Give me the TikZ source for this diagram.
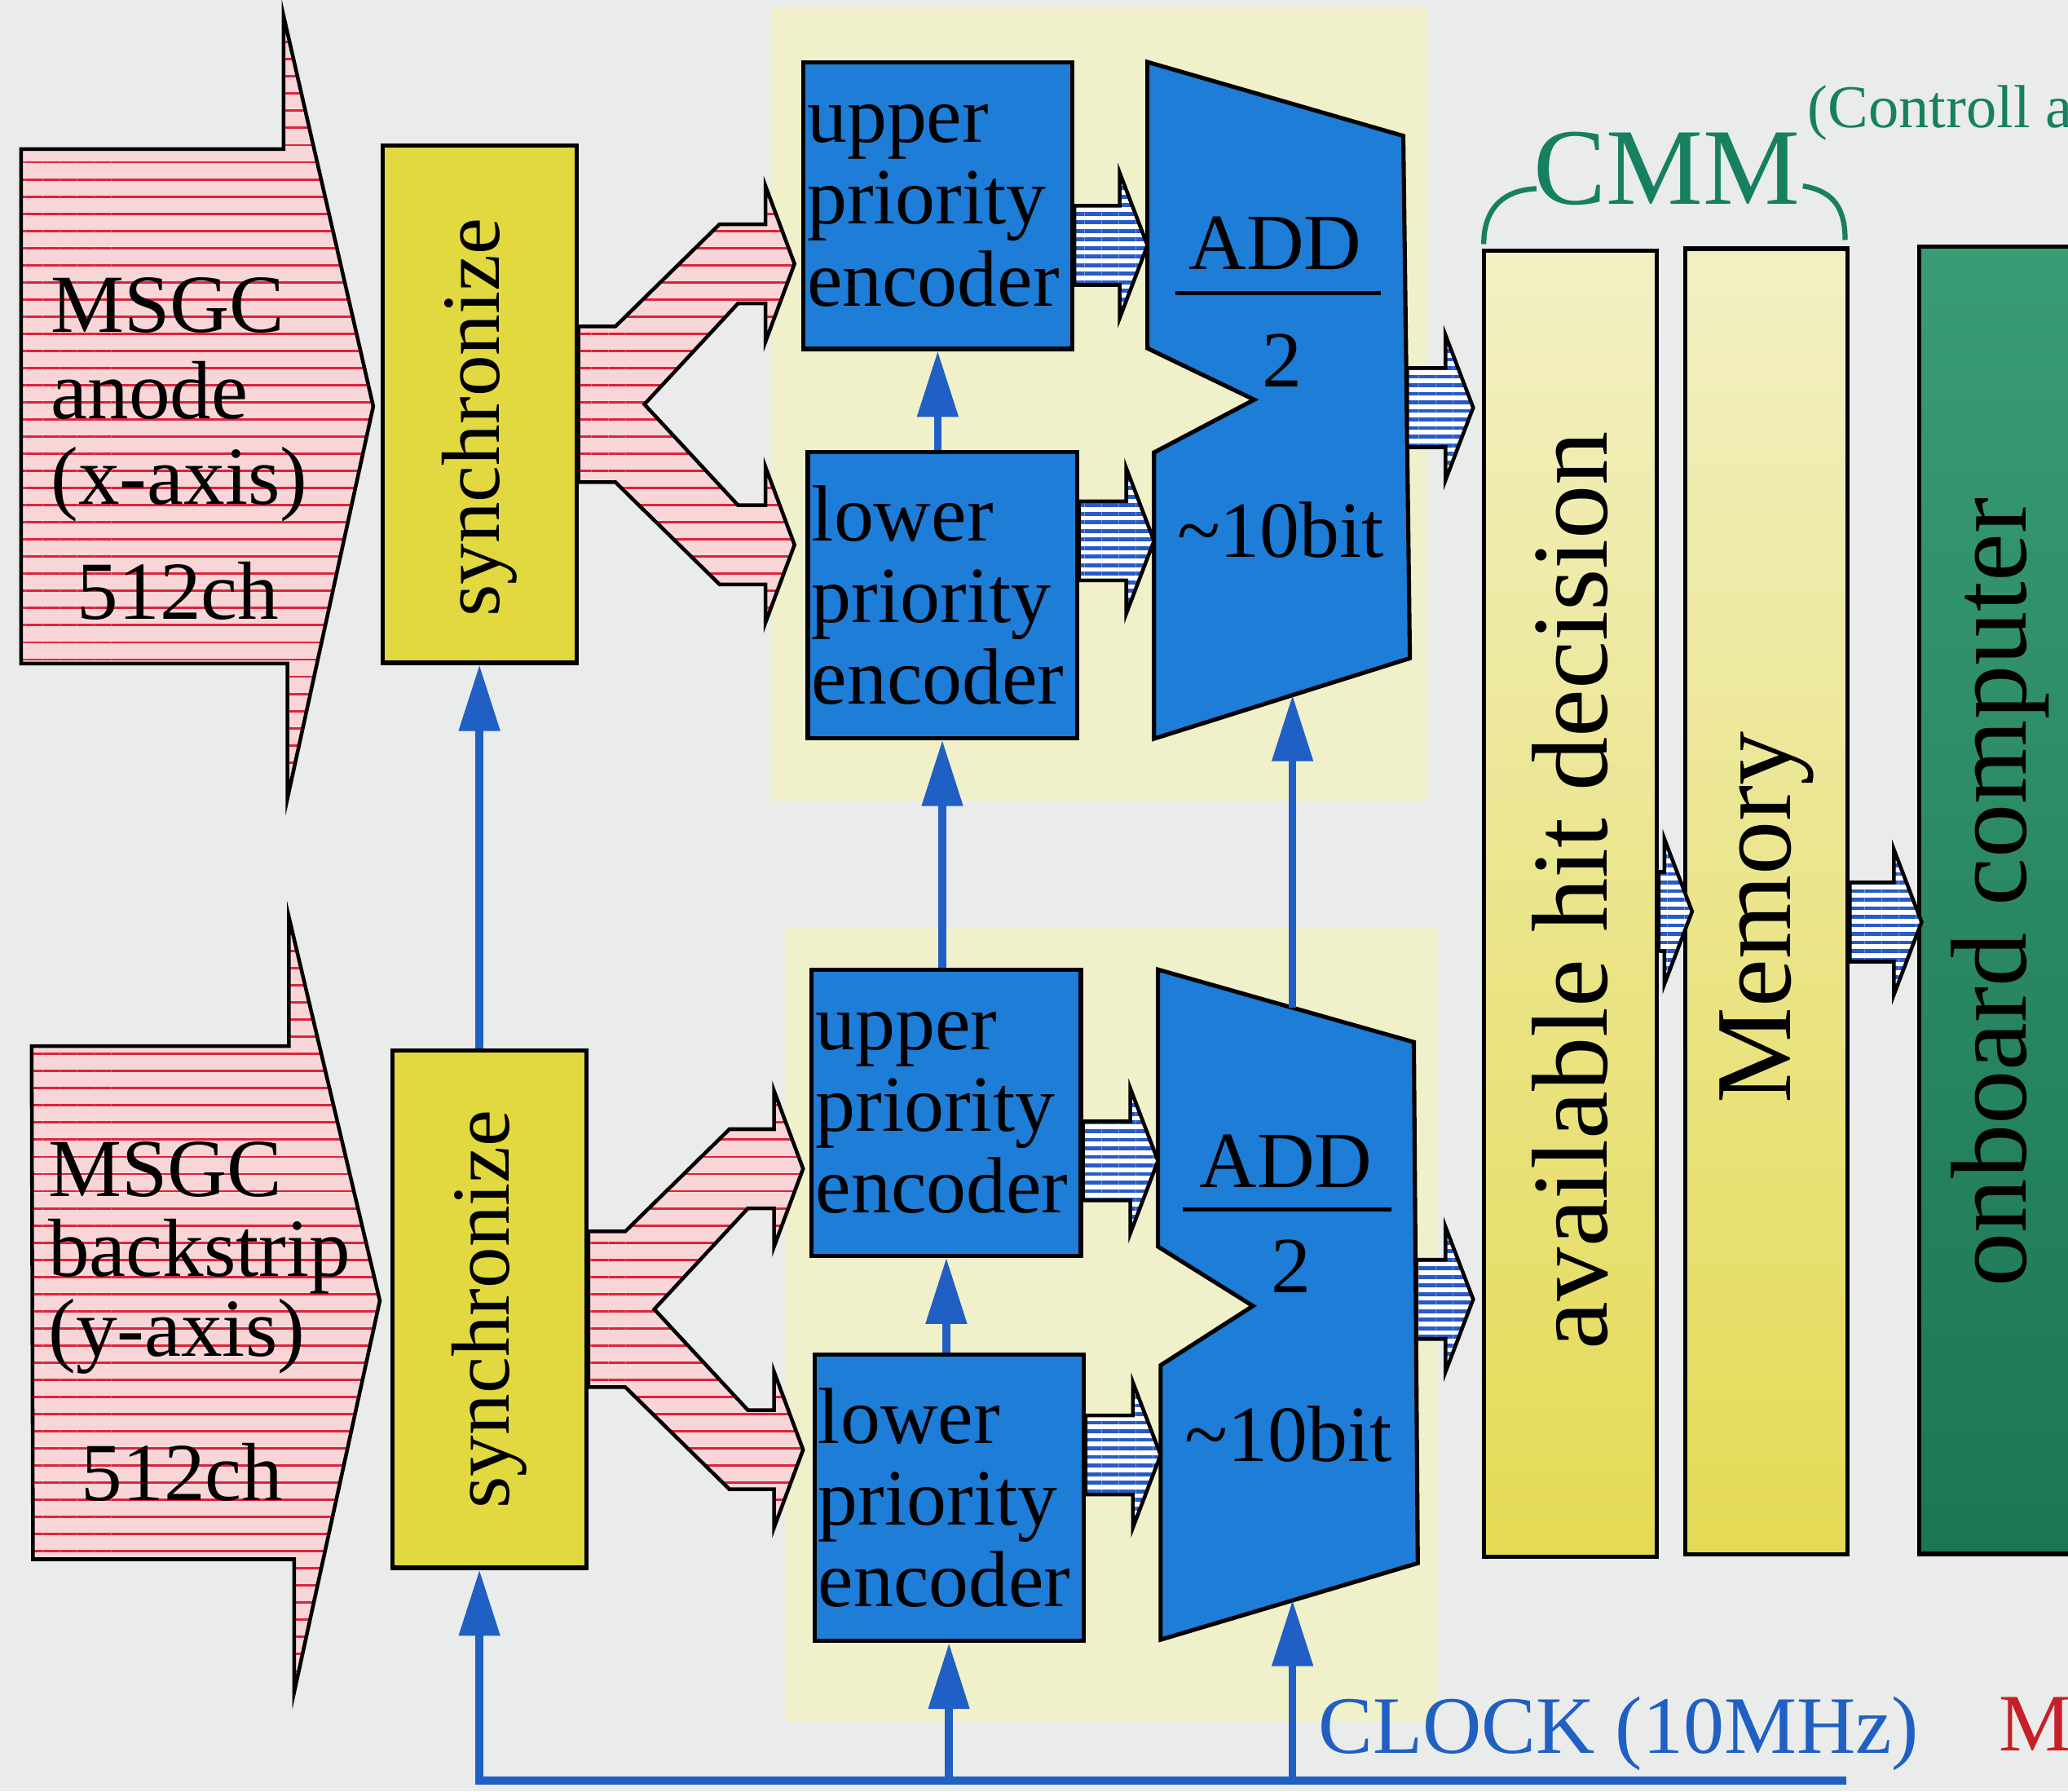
\documentclass[tikz,border=0pt]{standalone}
\usepackage{fontspec}
\setmainfont{Liberation Serif}
\usetikzlibrary{arrows.meta,patterns.meta,calc}

\definecolor{paper}{RGB}{233,236,234}
\definecolor{panel}{RGB}{240,240,202}
\definecolor{syncyellow}{RGB}{226,216,64}
\definecolor{encblue}{RGB}{30,125,215}
\definecolor{clockblue}{RGB}{32,95,195}
\definecolor{stripered}{RGB}{220,35,60}
\definecolor{stripepink}{RGB}{248,214,216}
\definecolor{stripeblue}{RGB}{40,90,200}
\definecolor{cmmgreen}{RGB}{22,128,96}
\definecolor{cmmtop}{RGB}{242,240,196}
\definecolor{cmmbottom}{RGB}{228,218,84}
\definecolor{obctop}{RGB}{56,156,116}
\definecolor{obcbottom}{RGB}{28,118,84}
\definecolor{mred}{RGB}{200,30,40}

% striped block arrow: x of #2 to the point #3 (y taken from #3)
\newcommand{\fatarrow}[3][blueflow]{%
  \path[#1] let \p1=#2, \p2=#3 in
    (\x1,\y2+3mm) -- (\x2-2.1mm,\y2+3mm) -- (\x2-2.1mm,\y2+5.5mm) -- (\x2,\y2)
    -- (\x2-2.1mm,\y2-5.5mm) -- (\x2-2.1mm,\y2-3mm) -- (\x1,\y2-3mm) -- cycle;}

% forked block arrow from a synchronize box to its two encoders
\newcommand{\forkarrow}[2]{%
  \path[redflow] let \p1=(#1.east), \p2=(#2.west) in
    (\x1,\y1+5.9mm) -- (\x1+2.8mm,\y1+5.9mm) -- (\x1+10.7mm,\y1+13.65mm)
    -- (\x2-2.7mm,\y1+13.65mm) -- (\x2-2.7mm,\y1+16.55mm) -- (\x2-0.5mm,\y1+10.65mm)
    -- (\x2-2.7mm,\y1+4.75mm) -- (\x2-2.7mm,\y1+7.65mm) -- (\x1+12.1mm,\y1+7.65mm)
    -- (\x1+5mm,\y1) -- (\x1+12.1mm,\y1-7.65mm) -- (\x2-2.7mm,\y1-7.65mm)
    -- (\x2-2.7mm,\y1-4.75mm) -- (\x2-0.5mm,\y1-10.65mm) -- (\x2-2.7mm,\y1-16.55mm)
    -- (\x2-2.7mm,\y1-13.65mm) -- (\x1+10.7mm,\y1-13.65mm) -- (\x1+2.8mm,\y1-5.9mm)
    -- (\x1,\y1-5.9mm) -- cycle;}

\begin{document}
\begin{tikzpicture}[x=0.1mm,y=-0.1mm,
    redflow/.style={draw=black,line width=0.8pt,preaction={fill=stripepink},
        pattern={Lines[angle=0,distance=1.3mm,line width=0.18mm]},pattern color=stripered},
    blueflow/.style={draw=black,line width=0.8pt,preaction={fill=white},
        pattern={Lines[angle=0,distance=0.65mm,line width=0.3mm]},pattern color=stripeblue},
    syncbox/.style={draw,line width=0.9pt,fill=syncyellow,minimum width=14.7mm,minimum height=39.2mm},
    encbox/.style={draw,line width=0.9pt,fill=encblue,minimum height=21.7mm,text width=19.8mm,
        inner sep=0.3mm,align=left,font=\fontsize{17.2pt}{17.6pt}\selectfont},
    addshape/.style={draw,line width=0.9pt,fill=encblue},
    addtext/.style={inner sep=0,font=\fontsize{17.2pt}{17.6pt}\selectfont},
    cmmbox/.style={draw,line width=0.9pt,top color=cmmtop,bottom color=cmmbottom,minimum height=99mm},
    vtext/.style={rotate=90,inner sep=0},
    msgc/.style={align=left,inner sep=0,anchor=north west},
    clk/.style={draw=clockblue,line width=1.7pt,-{Triangle[length=5mm,width=3mm]}}]

    \useasboundingbox (0,0) rectangle (1568,1358);
    \clip (0,0) rectangle (1568,1358);
    \fill[paper] (0,0) rectangle (1568,1358);

    % Pale panels behind encoders and adders
    \fill[panel] (585,5) rectangle (1083,607);
    \fill[panel] (595,703) rectangle (1090,1305);

    % MSGC inputs
    \path[redflow] (16,113) -- (215,113) -- (215,12) -- (283,308) -- (218,605)
        -- (218,503) -- (16,503) -- cycle;
    \path[redflow] (24,793) -- (219,793) -- (219,695) -- (288,986) -- (223,1283)
        -- (223,1182) -- (25,1182) -- cycle;
    \node[msgc,font=\fontsize{17.8pt}{18.5pt}\selectfont] (msgcA) at (38,210)
        {MSGC\\anode\\(x-axis)\\[2.2mm]\hspace*{2mm}512ch};
    \node[msgc,font=\fontsize{17.8pt}{17.2pt}\selectfont] (msgcB) at (36,865)
        {MSGC\\backstrip\\(y-axis)\\[4.9mm]\hspace*{2.5mm}512ch};

    % Synchronize
    \node[syncbox] (syncA) at (363.5,306.5) {};
    \node[syncbox] (syncB) at (371,992.5) {};
    \node[vtext,font=\fontsize{17.8pt}{18pt}\selectfont] (syncAtext) at ([yshift=-1mm]syncA.center) {synchronize};
    \node[vtext,font=\fontsize{17.8pt}{18pt}\selectfont] (syncBtext) at (syncB) {synchronize};

    % Priority encoders
    \node[encbox] (encUA) at (711,156) {upper\\priority\\encoder};
    \node[encbox] (encLA) at (714.5,451) {lower\\priority\\encoder};
    \node[encbox] (encUB) at (717.5,843.5) {upper\\priority\\encoder};
    \node[encbox] (encLB) at (719.5,1135.5) {lower\\priority\\encoder};

    \forkarrow{syncA}{encUA}
    \forkarrow{syncB}{encUB}

    % Adders
    \draw[addshape] (870,47) -- (1064,103) -- (1069,499) -- (875,560) -- (875,343)
        -- (951,303) -- (870,264) -- cycle;
    \draw[addshape] (878,735) -- (1072,790) -- (1075,1185) -- (880,1243) -- (880,1035)
        -- (950,990) -- (878,945) -- cycle;
    \node[addtext,anchor=base] (addAname) at (967,204) {ADD};
    \draw[line width=0.9pt] (891,222) -- (1047,222);
    \node[addtext] (addAhalf) at (972,273) {2};
    \node[addtext] (addAbits) at (971,402) {\textasciitilde10bit};
    \node[addtext,anchor=base] (addBname) at (975,900) {ADD};
    \draw[line width=0.9pt] (897,917) -- (1055,917);
    \node[addtext] (addBhalf) at (979,960) {2};
    \node[addtext] (addBbits) at (977,1087) {\textasciitilde10bit};

    \coordinate (addAin1) at (870,186);
    \coordinate (addAin2) at (875,410);
    \coordinate (addBin1) at (878,880);
    \coordinate (addBin2) at (880,1103);
    \coordinate (addAout) at (1067,309);
    \coordinate (addBout) at (1074,985);
    \coordinate (addAbot) at (980,527);
    \coordinate (addBtop) at (980,764);
    \coordinate (addBbot) at (980,1213);

    % CMM, memory and onboard computer
    \node[cmmbox,minimum width=13.1mm] (hit) at (1190.5,685) {};
    \node[cmmbox,minimum width=12.3mm] (mem) at (1339.5,683.5) {};
    \node[draw,line width=0.9pt,top color=obctop,bottom color=obcbottom,
        minimum width=12.3mm,minimum height=99.1mm] (obc) at (1516.5,682.5) {};
    \node[vtext,font=\fontsize{23.3pt}{24pt}\selectfont] (hittext) at ([yshift=1mm]hit.center) {available hit decision};
    \node[vtext,font=\fontsize{23.3pt}{24pt}\selectfont] (memtext) at ([yshift=-1.2mm]mem.center) {Memory};
    \node[vtext,font=\fontsize{23.3pt}{24pt}\selectfont] (obctext) at ([yshift=0.6mm]obc.center) {onboard computer};

    \coordinate (hitA) at (1117,309);
    \coordinate (hitB) at (1117,985);
    \coordinate (memIn) at (1283,691);
    \coordinate (obcIn) at (1457,699);

    % Data flow
    \fatarrow{(encUA.east)}{(addAin1)}
    \fatarrow{(encLA.east)}{(addAin2)}
    \fatarrow{(encUB.east)}{(addBin1)}
    \fatarrow{(encLB.east)}{(addBin2)}
    \fatarrow{(addAout)}{(hitA)}
    \fatarrow{(addBout)}{(hitB)}
    \fatarrow{(hit.east)}{(memIn)}
    \fatarrow{(mem.east)}{(obcIn)}

    % CMM bracket
    \draw[cmmgreen,line width=1.1pt] (1125,185) .. controls (1125,158) and (1140,144) .. (1165,143);
    \draw[cmmgreen,line width=1.1pt] (1367,141) .. controls (1392,145) and (1399,160) .. (1399,182);
    \node[inner sep=0,anchor=base,text=cmmgreen,font=\fontsize{23.5pt}{24pt}\selectfont]
        (cmmlabel) at (1264,155) {CMM};
    \node[inner sep=0,anchor=base west,text=cmmgreen,font=\fontsize{13.1pt}{14pt}\selectfont]
        (ctrllabel) at (1370,97) {(Controll a};

    % Clock
    \coordinate (clkR) at (1400,1350);
    \coordinate (clkL) at (syncA.south |- clkR);
    \draw[clk] (clkR) -- (clkL) -- (clkL |- syncB.south);
    \draw[clk] (encLB.south |- clkR) -- (encLB.south);
    \draw[clk] (addBbot |- clkR) -- (addBbot);
    \draw[clk] (syncA.south |- syncB.north) -- (syncA.south);
    \draw[clk] (encUB.south |- encLB.north) -- (encUB.south);
    \draw[clk] (encLA.south |- encUB.north) -- (encLA.south);
    \draw[clk] (encUA.south |- encLA.north) -- (encUA.south);
    \draw[clk] (addBtop) -- (addAbot);
    \node[inner sep=0,anchor=base west,text=clockblue,font=\fontsize{17.6pt}{18pt}\selectfont]
        (clocklabel) at (999,1329) {CLOCK (10MHz)};
    \node[inner sep=0,anchor=base west,text=mred,font=\fontsize{17.6pt}{18pt}\selectfont]
        (mlabel) at (1515,1327) {M};
\end{tikzpicture}
\end{document}
